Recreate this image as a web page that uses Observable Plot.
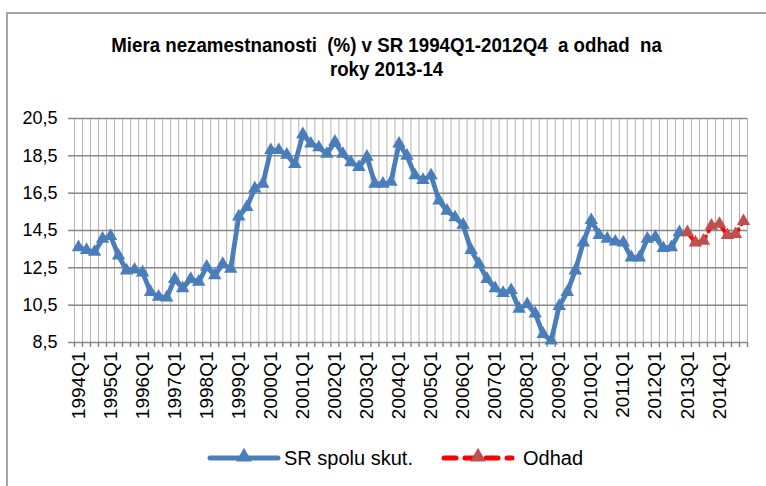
<!DOCTYPE html>
<html>
<head>
<meta charset="utf-8">
<script src="https://cdn.jsdelivr.net/npm/d3@7"></script>
<script src="https://cdn.jsdelivr.net/npm/@observablehq/plot@0.6"></script>
<style>
  html, body { margin: 0; padding: 0; background: #fff; }
  #wrap { position: relative; width: 766px; height: 486px; overflow: hidden; font-family: "Liberation Sans", Arial, sans-serif; }
  #frame { position: absolute; left: 6px; top: 12px; width: 800px; height: 520px; border-left: 2px solid #a6a6a6; border-top: 2px solid #a6a6a6; box-sizing: border-box; }
  #title { position: absolute; left: 0; top: 33px; width: 773px; text-align: center; font-weight: bold; font-size: 21px; line-height: 24px; color: #000; white-space: pre; transform: scaleX(0.89); transform-origin: 387px 0; }
  #chart { position: absolute; left: 0; top: 0; }
  #legend { position: absolute; left: 0; top: 444px; width: 766px; height: 30px; }
  .lg { position: absolute; top: 0; font-size: 20px; line-height: 28px; color: #000; white-space: pre; }
</style>
</head>
<body>
<div id="wrap">
  <div id="frame"></div>
  <div id="chart"></div>
  <div id="title">Miera nezamestnanosti  (%) v SR 1994Q1-2012Q4  a odhad  na
roky 2013-14</div>
  <div id="legend"></div>
</div>
<script>
// ---- data ----
const years = [1994, 1995, 1996, 1997, 1998, 1999, 2000, 2001, 2002, 2003, 2004,
               2005, 2006, 2007, 2008, 2009, 2010, 2011, 2012, 2013, 2014];
const quarterNames = ["Q1", "Q2", "Q3", "Q4"];
const quarters = years.flatMap(y => quarterNames.map(q => `${y}${q}`));

const seriesActualName = "SR spolu skut.";
const seriesForecastName = "Odhad";

// SR spolu skut., 1994Q1 - 2012Q4
const actual = [
  13.6, 13.45, 13.35, 14.05,
  14.2, 13.15, 12.35, 12.4,
  12.25, 11.2, 10.95, 10.9,
  11.9, 11.4, 11.9, 11.75,
  12.55, 12.1, 12.7, 12.45,
  15.25, 15.75, 16.75, 17.0,
  18.8, 18.8, 18.55, 18.05,
  19.65, 19.15, 18.95, 18.6,
  19.25, 18.6, 18.15, 17.9,
  18.45, 17.0, 17.0, 17.1,
  19.15, 18.5, 17.45, 17.2,
  17.45, 16.1, 15.55, 15.2,
  14.8, 13.45, 12.7, 11.9,
  11.4, 11.15, 11.3, 10.3,
  10.55, 10.05, 8.95, 8.6,
  10.45, 11.2, 12.35, 13.85,
  15.05, 14.25, 14.05, 13.9,
  13.85, 13.05, 13.05, 14.05,
  14.15, 13.55, 13.6, 14.4
];
// Odhad, 2013Q1 - 2014Q4
const forecast = [14.4, 13.85, 13.95, 14.75, 14.85, 14.25, 14.3, 15.0];

const yTicks = [8.5, 10.5, 12.5, 14.5, 16.5, 18.5, 20.5];
const xLabelEvery = 4;

// ---- tables ----
const actualData = actual.map((v, i) => ({i, q: quarters[i], v}));
const forecastData = forecast.map((v, k) => ({i: actual.length + k, q: quarters[actual.length + k], v}));
const n = quarters.length;
const boundaries = d3.range(n + 1).map(i => i - 0.5);
const labelIdx = d3.range(0, n, xLabelEvery);

const fmt = v => d3.format(".1f")(v).replace(".", ",");
const blue = "#4a7ebb";
const redLine = "#ff0000";
const redMark = "#c0504d";
const font = '"Liberation Sans", Arial, sans-serif';

const chart = Plot.plot({
  width: 766,
  height: 486,
  marginLeft: 74,
  marginRight: 19,
  marginTop: 118,
  marginBottom: 144,
  style: {fontFamily: font, background: "transparent", color: "#000", overflow: "visible"},
  x: {type: "linear", domain: [-0.5, n - 0.5]},
  y: {domain: [8.5, 20.5]},
  marks: [
    Plot.ruleX(boundaries, {stroke: "#b4b4b4", strokeWidth: 1, strokeOpacity: 1}),
    Plot.ruleY(yTicks, {stroke: "#878787", strokeWidth: 1.5}),
    Plot.axisX({ticks: boundaries, tickSize: 5, tickFormat: () => "", stroke: "#878787", strokeWidth: 1.5, label: null}),
    Plot.axisX({ticks: labelIdx, tickSize: 0, tickPadding: 9, tickRotate: -90,
                tickFormat: i => quarters[i], fontSize: 19, fill: "#000", label: null,
                ariaLabel: "x-labels"}),
    Plot.axisY({ticks: yTicks, tickSize: 6, tickPadding: 11, tickFormat: fmt,
                fontSize: 18, stroke: "#878787", strokeWidth: 1.5, fill: "#000", label: null}),
    Plot.line(actualData, {x: "i", y: "v", stroke: blue, strokeWidth: 4.8, strokeLinejoin: "round", strokeLinecap: "round"}),
    Plot.dot(actualData, {x: "i", y: "v", symbol: "triangle", r: 5, fill: blue, stroke: "none"}),
    Plot.line(forecastData, {x: "i", y: "v", stroke: redLine, strokeWidth: 4, strokeDasharray: "10,6"}),
    Plot.dot(forecastData, {x: "i", y: "v", symbol: "triangle", r: 5, fill: redMark, stroke: "none"})
  ]
});
// narrow the rotated quarter labels (condensed look of the original)
d3.select(chart).selectAll("g[aria-label='x-labels'] text").each(function() {
  const t = this.getAttribute("transform") || "";
  this.setAttribute("transform", t + " scale(0.85,1)");
});
document.getElementById("chart").appendChild(chart);

// ---- legend ----
const legend = document.getElementById("legend");
function swatch(x, color, dash, mcolor) {
  const svg = d3.create("svg").attr("width", 80).attr("height", 28)
    .style("position", "absolute").style("left", x + "px").style("top", "0px");
  svg.append("line").attr("x1", 4).attr("x2", 72).attr("y1", 14).attr("y2", 14)
    .attr("stroke", color).attr("stroke-width", 5).attr("stroke-linecap", "round")
    .attr("stroke-dasharray", dash);
  svg.append("path").attr("d", d3.symbol(d3.symbolTriangle, 110)()).attr("transform", "translate(38,13)")
    .attr("fill", mcolor);
  legend.appendChild(svg.node());
}
swatch(206, blue, null, blue);
const l1 = document.createElement("div"); l1.className = "lg"; l1.style.left = "284px"; l1.textContent = seriesActualName; legend.appendChild(l1);
swatch(440, redLine, "12,9", redMark);
const l2 = document.createElement("div"); l2.className = "lg"; l2.style.left = "523px"; l2.textContent = seriesForecastName; legend.appendChild(l2);
</script>
</body>
</html>
